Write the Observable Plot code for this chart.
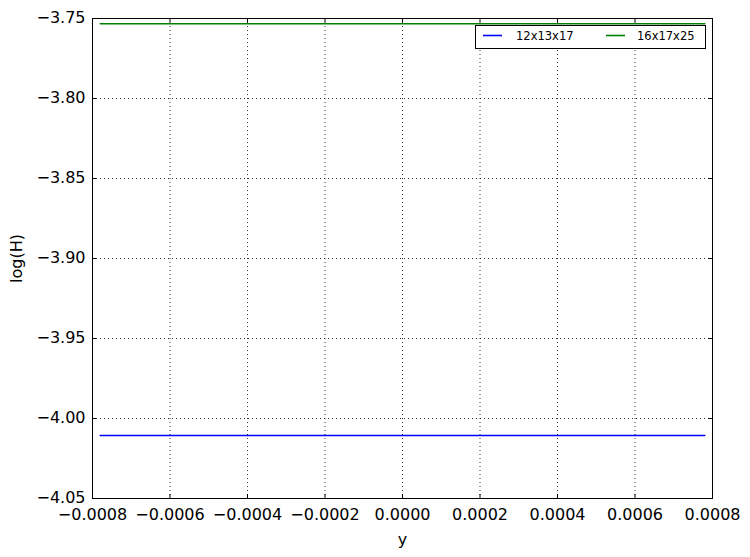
<!DOCTYPE html>
<html>
<head>
<meta charset="utf-8">
<script src="https://cdn.jsdelivr.net/npm/d3@7"></script>
<script src="https://cdn.jsdelivr.net/npm/@observablehq/plot@0.6"></script>
<style>
  html, body { margin: 0; padding: 0; background: #fff; }
  svg { display: block; }
</style>
</head>
<body>
<div id="chart"></div>
<script>
const seriesNames = ["12x13x17", "16x17x25"];
const seriesColors = ["#0000ff", "#008000"];
const xValues = [-0.00078, 0.00078];
const series1 = [-4.0106, -4.0106];
const series2 = [-3.7533, -3.7533];
const xTicks = [-0.0008, -0.0006, -0.0004, -0.0002, 0, 0.0002, 0.0004, 0.0006, 0.0008];
const yTicks = [-4.05, -4.00, -3.95, -3.90, -3.85, -3.80, -3.75];

const data = [];
[series1, series2].forEach((vals, i) => {
  vals.forEach((v, j) => data.push({series: seriesNames[i], x: xValues[j], y: v}));
});

const W = 750, H = 557;
const mL = 92, mR = 38, mT = 18, mB = 59;
const fw = W - mL - mR, fh = H - mT - mB;
const minus = s => s.replace("-", "\u2212");

const chart = Plot.plot({
  width: W, height: H,
  marginLeft: mL, marginRight: mR, marginTop: mT, marginBottom: mB,
  style: {fontFamily: "DejaVu Sans, sans-serif", fontSize: "16px", color: "#000", background: "#fff"},
  x: {domain: [-0.0008, 0.0008]},
  y: {domain: [-4.05, -3.75]},
  color: {domain: seriesNames, range: seriesColors},
  marks: [
    Plot.gridX(xTicks.slice(1, -1), {stroke: "#000", strokeOpacity: 1, strokeWidth: 0.8, strokeDasharray: "1,3"}),
    Plot.gridY(yTicks.slice(1, -1), {stroke: "#000", strokeOpacity: 1, strokeWidth: 0.8, strokeDasharray: "1,3"}),
    Plot.line(data, {x: "x", y: "y", z: "series", stroke: "series", strokeWidth: 1.6}),
    Plot.ruleX(xTicks, {stroke: "#000", insetTop: fh - 4}),
    Plot.ruleX(xTicks, {stroke: "#000", insetBottom: fh - 4}),
    Plot.ruleY(yTicks, {stroke: "#000", insetLeft: fw - 4}),
    Plot.ruleY(yTicks, {stroke: "#000", insetRight: fw - 4}),
    Plot.frame({stroke: "#000", strokeWidth: 1}),
    Plot.axisX(xTicks, {tickSize: 0, tickPadding: 10, fontSize: 16, tickFormat: d => minus(d3.format(".4f")(d)),
      label: "y", labelAnchor: "center", labelArrow: "none", labelOffset: 46}),
    Plot.axisY(yTicks, {tickSize: 0, tickPadding: 7, dy: -1, fontSize: 16, tickFormat: d => minus(d3.format(".2f")(d)),
      label: "log(H)", labelAnchor: "center", labelArrow: "none", labelOffset: 82})
  ]
});

// Legend (matplotlib-style boxed legend, upper right)
const svg = d3.select(chart);
const lg = svg.append("g").attr("font-family", "DejaVu Sans, sans-serif").attr("font-size", 11.5)
  .attr("text-anchor", "start");
lg.append("rect").attr("x", 475.5).attr("y", 25.5).attr("width", 230).attr("height", 23)
  .attr("fill", "#fff").attr("stroke", "#000").attr("stroke-width", 1);
const items = [{x: 483, tx: 516}, {x: 606, tx: 637}];
items.forEach((it, i) => {
  lg.append("line").attr("x1", it.x).attr("x2", it.x + 19).attr("y1", 35.5).attr("y2", 35.5)
    .attr("stroke", seriesColors[i]).attr("stroke-width", 1.6);
  lg.append("text").attr("x", it.tx).attr("y", 40).attr("fill", "#000").attr("text-anchor", "start").text(seriesNames[i]);
});

document.getElementById("chart").appendChild(chart);
</script>
</body>
</html>
